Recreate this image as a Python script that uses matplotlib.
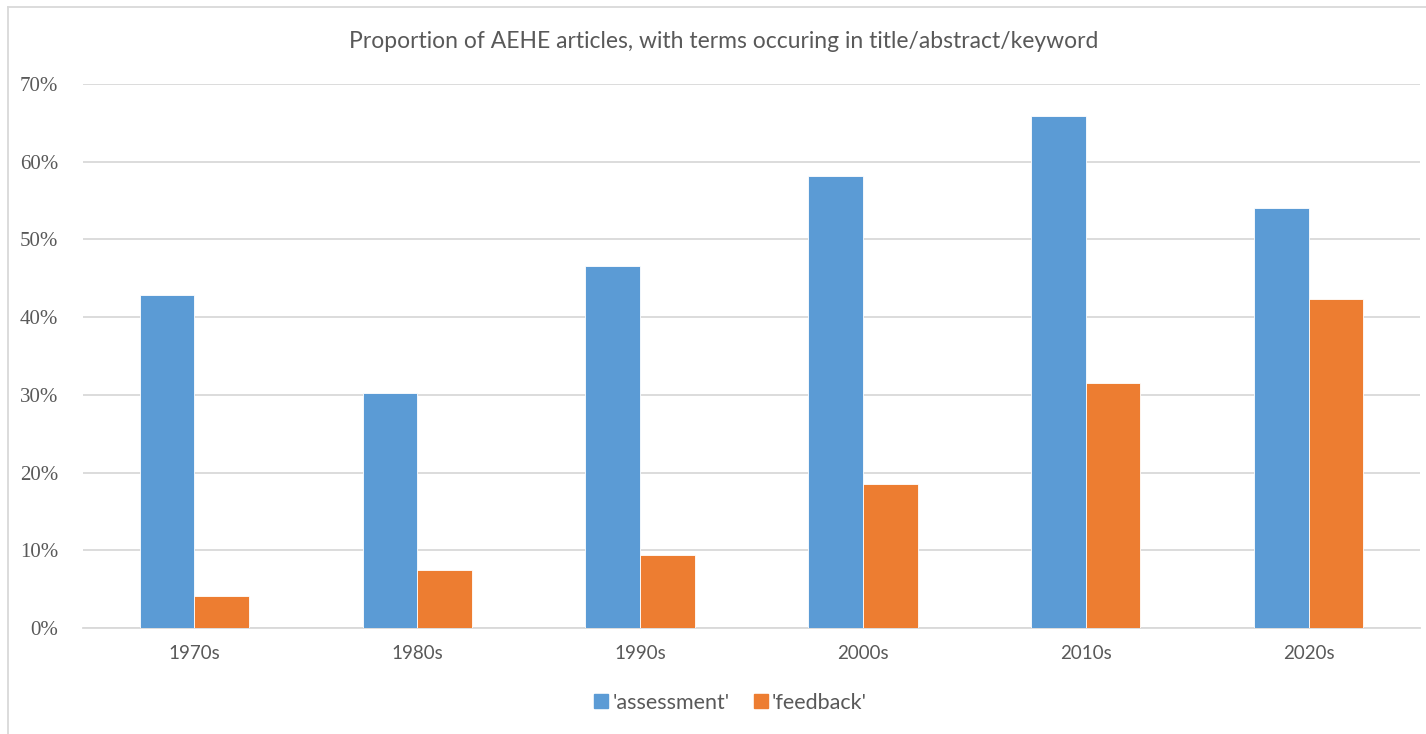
import matplotlib
matplotlib.use("Agg")
import matplotlib.pyplot as plt
import numpy as np
from matplotlib.lines import Line2D
from matplotlib.ticker import FuncFormatter

categories = ["1970s", "1980s", "1990s", "2000s", "2010s", "2020s"]
assessment = [42.8, 30.3, 46.6, 58.1, 65.9, 54.1]
feedback = [4.1, 7.5, 9.4, 18.5, 31.5, 42.3]
series_names = ["'assessment'", "'feedback'"]
title = "Proportion of AEHE articles, with terms occuring in title/abstract/keyword"

W, H = 1426, 734
fig = plt.figure(figsize=(W / 100, H / 100), dpi=100)
ax = fig.add_axes([83 / W, (H - 628) / H, (1420 - 83) / W, (628 - 84) / H])

blue = "#5B9BD5"
orange = "#ED7D31"
grey_text = "#595959"
sans = ["Lato", "DejaVu Sans"]
serif = ["Liberation Serif", "DejaVu Serif"]

x = np.arange(len(categories))
w = 0.245
ax.bar(x - w / 2, assessment, w, color=blue, edgecolor="white", linewidth=0.6, zorder=3)
ax.bar(x + w / 2, feedback, w, color=orange, edgecolor="white", linewidth=0.6, zorder=3)

ax.set_xlim(-0.5, len(categories) - 0.5)
ax.set_ylim(0, 70)
ax.set_yticks(np.arange(0, 71, 10))
ax.yaxis.set_major_formatter(FuncFormatter(lambda v, p: f"{int(v)}%"))
ax.grid(axis="y", color="#d9d9d9", linewidth=1.3, zorder=0)
for s in ["top", "right", "left"]:
    ax.spines[s].set_visible(False)
ax.spines["bottom"].set_color("#d9d9d9")
ax.spines["bottom"].set_linewidth(1.3)
ax.tick_params(axis="both", length=0)
ax.tick_params(axis="y", pad=18)
ax.tick_params(axis="x", pad=12)
ax.set_xticks(x)
ax.set_xticklabels(categories, fontfamily=sans, fontsize=13.5, color=grey_text)
for lab in ax.get_yticklabels():
    lab.set_fontfamily(serif)
    lab.set_fontsize(15)
    lab.set_color(grey_text)

fig.text(724 / W, 1 - 42 / H, title, ha="center", va="center",
         fontfamily=sans, fontsize=16.5, color=grey_text)

handles = [Line2D([], [], marker="s", linestyle="none", markersize=10, color=blue),
           Line2D([], [], marker="s", linestyle="none", markersize=10, color=orange)]
fig.legend(handles, series_names, loc="center", bbox_to_anchor=(729 / W, 1 - 703 / H),
           ncol=2, frameon=False, prop={"family": sans, "size": 15.5},
           labelcolor=grey_text, handletextpad=0.05, columnspacing=1.0, handlelength=0.9)

# chart-area border (left and top edges visible)
fig.add_artist(Line2D([8 / W, 8 / W], [0, 1 - 7 / H], transform=fig.transFigure,
                      color="#d9d9d9", linewidth=1.3))
fig.add_artist(Line2D([8 / W, 1], [1 - 7 / H, 1 - 7 / H], transform=fig.transFigure,
                      color="#d9d9d9", linewidth=1.3))

fig.savefig("out.png", dpi=100)
